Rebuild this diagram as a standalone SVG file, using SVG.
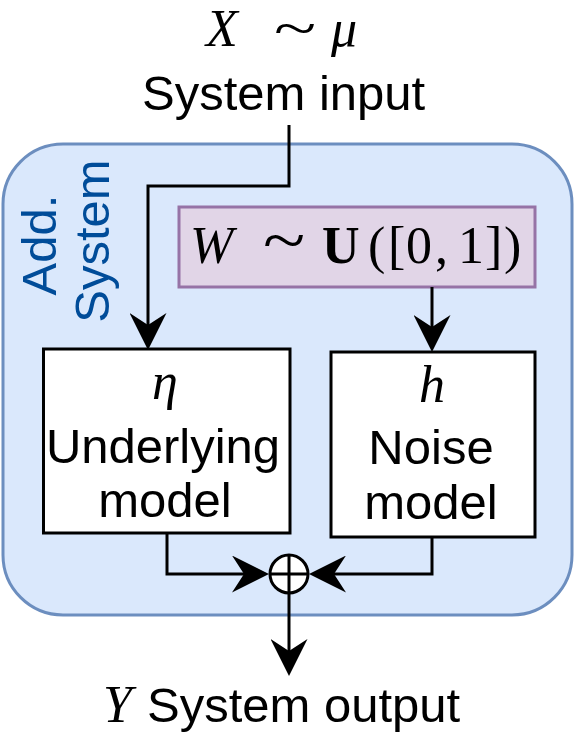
<svg xmlns="http://www.w3.org/2000/svg" width="576" height="733" viewBox="0 0 576 733">
  <style>
    .lbl { font-family: "Liberation Sans", Arial, sans-serif; font-size: 49px; fill: #000; }
    .blue { fill: #004c99; }
    .math { font-family: "Liberation Serif", "DejaVu Serif", serif; fill: #000; }
    .it { font-style: italic; }
    .tl { font-family: "Liberation Serif", serif; font-size: 52px; fill: #000; }
    .box { fill: #ffffff; stroke: #000; stroke-width: 3; }
    .conn { fill: none; stroke: #000; stroke-width: 3; }
  </style>
  <defs>
    <marker id="arrow" viewBox="0 -18.5 37 37" refX="12" refY="0" markerWidth="37" markerHeight="37" markerUnits="userSpaceOnUse" orient="auto">
      <path d="M0,-18.5 L37,0 L0,18.5 L12,0 Z" fill="#000"/>
    </marker>
  </defs>

  <g id="system">
    <rect x="3" y="144" width="569" height="471" rx="60" ry="60" fill="#dae8fc" stroke="#6c8ebf" stroke-width="3"/>
    <text class="lbl blue" text-anchor="middle" transform="translate(56,245) rotate(-90)">Add.</text>
    <text class="lbl blue" text-anchor="middle" transform="translate(109,241) rotate(-90)">System</text>
  </g>

  <g id="input">
    <text class="math" font-size="52" y="46"><tspan class="it" x="206">X</tspan><tspan class="it" x="331">μ</tspan></text>
    <text class="tl" transform="translate(274,46) scale(1.5,1)">~</text>
    <text class="lbl" x="142" y="110">System input</text>
  </g>

  <g id="noise-source">
    <rect x="179" y="207" width="356" height="80" fill="#e1d5e7" stroke="#9673a6" stroke-width="3"/>
    <text class="math" font-size="52" y="263"><tspan class="it" x="190">W</tspan><tspan font-weight="bold" x="322">U</tspan><tspan x="368">(</tspan><tspan x="388">[</tspan><tspan x="406">0</tspan><tspan x="435">,</tspan><tspan x="458">1</tspan><tspan x="485">]</tspan><tspan x="504">)</tspan></text>
    <text class="tl" transform="translate(263,262) scale(1.5,1.2)">~</text>
  </g>

  <g id="underlying">
    <rect class="box" x="43.5" y="349" width="246.5" height="184"/>
    <text class="math it" font-size="52" x="165" y="399" text-anchor="middle">η</text>
    <text class="lbl" x="163" y="463" text-anchor="middle">Underlying</text>
    <text class="lbl" x="165" y="517" text-anchor="middle">model</text>
  </g>

  <g id="noise-model">
    <rect class="box" x="331" y="352" width="204" height="185"/>
    <text class="math it" font-size="52" x="432" y="402" text-anchor="middle">h</text>
    <text class="lbl" x="431" y="464" text-anchor="middle">Noise</text>
    <text class="lbl" x="431" y="519" text-anchor="middle">model</text>
  </g>

  <g id="sum">
    <circle cx="289" cy="574" r="19" fill="#ffffff" stroke="#000" stroke-width="3"/>
    <path d="M289,555 V593 M270,574 H308" stroke="#000" stroke-width="3" fill="none"/>
  </g>

  <g id="output">
    <text class="math it" font-size="52" x="103" y="722">Y</text>
    <text class="lbl" x="147" y="722">System output</text>
  </g>

  <g id="connectors">
    <path class="conn" d="M289,125 V186 H148 V325" marker-end="url(#arrow)"/>
    <path class="conn" d="M432,287 V327" marker-end="url(#arrow)"/>
    <path class="conn" d="M167,533 V574 H244" marker-end="url(#arrow)"/>
    <path class="conn" d="M432,537 V574 H334" marker-end="url(#arrow)"/>
    <path class="conn" d="M289,594 V651" marker-end="url(#arrow)"/>
  </g>
</svg>
